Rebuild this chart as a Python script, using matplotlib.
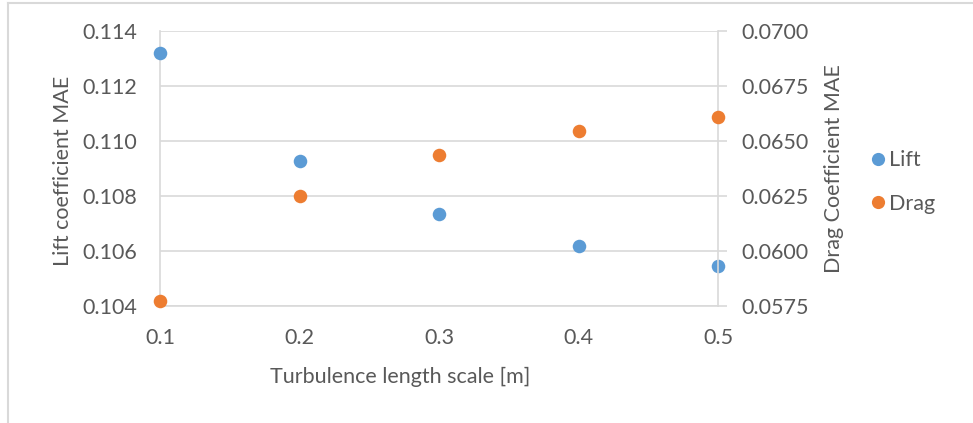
import matplotlib
matplotlib.use("Agg")
import matplotlib.pyplot as plt
from matplotlib.lines import Line2D

# Data
length_scale = [0.1, 0.2, 0.3, 0.4, 0.5]
lift_mae = [0.1132, 0.10927, 0.10733, 0.10618, 0.10545]
drag_mae = [0.05775, 0.06248, 0.06438, 0.06547, 0.06610]
lift_ticks = [0.104, 0.106, 0.108, 0.110, 0.112, 0.114]
drag_ticks = [0.0575, 0.0600, 0.0625, 0.0650, 0.0675, 0.0700]
x_ticks = [0.1, 0.2, 0.3, 0.4, 0.5]

BLUE = "#5B9BD5"
ORANGE = "#ED7D31"
TEXT = "#595959"
GRID = "#D9D9D9"
FS = 15.5

plt.rcParams["font.family"] = ["Lato", "DejaVu Sans"]

W, H = 973, 423
fig = plt.figure(figsize=(W / 100, H / 100), dpi=100)

# plot area in pixels
left, right, top, bottom = 160, 718, 31, 306
ax = fig.add_axes([left / W, 1 - bottom / H, (right - left) / W, (bottom - top) / H])
ax2 = ax.twinx()

ax.set_xlim(0.1, 0.5)
ax.set_ylim(0.104, 0.114)
ax2.set_ylim(0.0575, 0.0700)

ax.set_xticks(x_ticks)
ax.set_xticklabels([f"{v:.1f}" for v in x_ticks])
ax.set_yticks(lift_ticks)
ax.set_yticklabels([f"{v:.3f}" for v in lift_ticks])
ax2.set_yticks(drag_ticks)
ax2.set_yticklabels([f"{v:.4f}" for v in drag_ticks])

ax.grid(axis="y", color=GRID, linewidth=1.2)
ax.set_axisbelow(True)

for a in (ax, ax2):
    for s in a.spines.values():
        s.set_visible(False)

ax.spines["left"].set_visible(True)
ax.spines["left"].set_color(GRID)
ax.spines["left"].set_linewidth(1.2)
ax.spines["bottom"].set_visible(True)
ax.spines["bottom"].set_color(GRID)
ax.spines["bottom"].set_linewidth(1.2)
ax2.spines["right"].set_visible(True)
ax2.spines["right"].set_color(GRID)
ax2.spines["right"].set_linewidth(1.2)

ax.tick_params(axis="both", length=0, labelsize=FS, labelcolor=TEXT)
ax.tick_params(axis="x", pad=16)
ax.tick_params(axis="y", pad=16.5)
ax2.tick_params(axis="y", length=6.5, width=1.2, color=GRID, labelsize=FS,
                labelcolor=TEXT, pad=10)

# axis titles placed at fixed pixel positions
fig.text(400 / W, 1 - 377 / H, "Turbulence length scale [m]", fontsize=FS,
         color=TEXT, ha="center", va="center")
fig.text(63 / W, 1 - 171 / H, "Lift coefficient MAE", fontsize=FS,
         color=TEXT, ha="center", va="center", rotation=90)
fig.text(834 / W, 1 - 169 / H, "Drag Coefficient MAE", fontsize=FS,
         color=TEXT, ha="center", va="center", rotation=90)

ax.scatter(length_scale, lift_mae, s=95, color=BLUE, zorder=5, clip_on=False,
           linewidths=0)
ax2.scatter(length_scale, drag_mae, s=95, color=ORANGE, zorder=5, clip_on=False,
            linewidths=0)

handles = [
    Line2D([], [], marker="o", linestyle="none", markersize=9.5,
           markerfacecolor=BLUE, markeredgewidth=0, label="Lift"),
    Line2D([], [], marker="o", linestyle="none", markersize=9.5,
           markerfacecolor=ORANGE, markeredgewidth=0, label="Drag"),
]
fig.legend(handles=handles, loc="center left",
           bbox_to_anchor=(856 / W, 1 - 182 / H), frameon=False,
           fontsize=FS, labelcolor=TEXT, handletextpad=0.05,
           labelspacing=1.1, handlelength=1.0, borderpad=0)

# outer chart frame
fig.add_artist(Line2D([7.5 / W, 7.5 / W], [0, 1 - 3.5 / H], transform=fig.transFigure,
                      color="#D9D9D9", linewidth=1.5))
fig.add_artist(Line2D([7.5 / W, 1], [1 - 3.5 / H, 1 - 3.5 / H], transform=fig.transFigure,
                      color="#D9D9D9", linewidth=1.5))

fig.savefig("out.png", dpi=100, facecolor="white")
